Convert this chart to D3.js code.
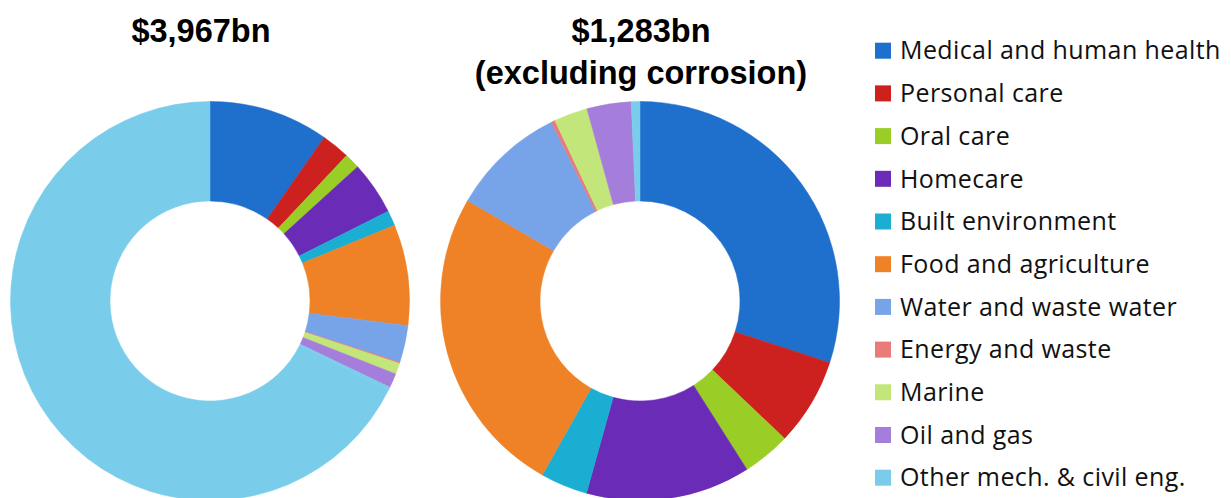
<!DOCTYPE html>
<html>
<head>
<meta charset="utf-8">
<script src="https://cdn.jsdelivr.net/npm/d3@7"></script>
<style>
  html, body { margin: 0; padding: 0; background: #fff; }
  svg { display: block; }
</style>
</head>
<body>
<svg id="chart" width="1231" height="498"></svg>
<script>
// Market segments, $bn
const categories = [
  "Medical and human health",
  "Personal care",
  "Oral care",
  "Homecare",
  "Built environment",
  "Food and agriculture",
  "Water and waste water",
  "Energy and waste",
  "Marine",
  "Oil and gas",
  "Other mech. & civil eng."
];
const values = [385, 91, 50, 171, 49, 324, 119, 4, 35, 46, 9];
const corrosion = 2684;
const colors = [
  "#1f6fcc", "#cc211e", "#9acd25", "#6a2bb6", "#1aaed3", "#ef8227",
  "#77a3e8", "#e87b7b", "#c3e67a", "#a57edb", "#79cdeb"
];
const totalTitles = [["$3,967bn"], ["$1,283bn", "(excluding corrosion)"]];

const svg = d3.select("#chart");
const color = d3.scaleOrdinal().domain(categories.concat(["Corrosion"])).range(colors.concat([colors[10]]));

const pie = d3.pie().sort(null).value(d => d.value);
const arc = d3.arc().innerRadius(100).outerRadius(199.5);

const segs = categories.map((c, i) => ({ key: c, value: values[i] }));
const donuts = [
  { cx: 210, cy: 301, data: segs.concat([{ key: "Corrosion", value: corrosion }]), title: totalTitles[0], tx: 201 },
  { cx: 640, cy: 301, data: segs, title: totalTitles[1], tx: 641 }
];

donuts.forEach(dn => {
  const g = svg.append("g").attr("transform", `translate(${dn.cx},${dn.cy})`);
  g.selectAll("path")
    .data(pie(dn.data))
    .join("path")
    .attr("d", arc)
    .attr("fill", d => color(d.data.key))
    .attr("stroke", d => color(d.data.key))
    .attr("stroke-width", 0.5);

  const t = svg.append("text")
    .attr("text-anchor", "middle")
    .attr("font-family", "'Liberation Sans', Arial, sans-serif")
    .attr("font-weight", "bold")
    .attr("font-size", 32.5)
    .attr("fill", "#000");
  dn.title.forEach((line, i) => {
    t.append("tspan").attr("x", dn.tx).attr("y", 42 + i * 42).text(line);
  });
});

// Legend
const legend = svg.append("g").attr("transform", "translate(875,0)");
const rows = legend.selectAll("g")
  .data(categories)
  .join("g")
  .attr("transform", (d, i) => `translate(0,${50.7 + i * 42.7})`);
rows.append("rect")
  .attr("x", 0).attr("y", -8)
  .attr("width", 16).attr("height", 16)
  .attr("fill", d => color(d));
rows.append("text")
  .attr("x", 25).attr("y", 0)
  .attr("dy", "0.35em")
  .attr("font-family", "'Open Sans', sans-serif")
  .attr("font-size", 25)
  .attr("letter-spacing", 0.4)
  .attr("fill", "#111")
  .text(d => d);
</script>
</body>
</html>
